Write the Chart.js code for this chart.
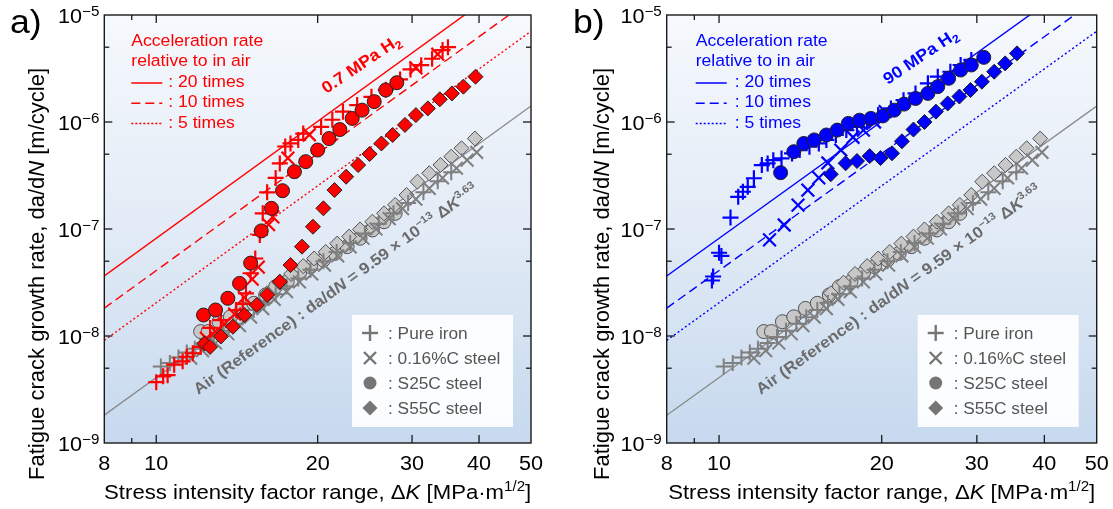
<!DOCTYPE html>
<html><head><meta charset="utf-8">
<script src="https://cdn.jsdelivr.net/npm/chart.js@4.4.0/dist/chart.umd.min.js"></script>
<style>
html,body{margin:0;padding:0;background:#fff;width:1113px;height:509px;overflow:hidden}
canvas{position:absolute;top:0}
#ca{left:0}
#cb{left:556px}
</style></head><body>
<canvas id="ca" width="556" height="509"></canvas>
<canvas id="cb" width="557" height="509"></canvas>
<script>
// ---------- axis ticks ----------
const xTicks = [8, 9, 10, 20, 30, 40, 50];
const xTickLabels = ['8', '', '10', '20', '30', '40', '50'];
const yDecades = [-9, -8, -7, -6, -5];
const yMinorTicks = [5e-9, 5e-8, 5e-7, 5e-6];

// ---------- reference law (Air) ----------
const airCoef = 9.59e-13;
const airExp = 3.63;
const accelFactors = [20, 10, 5];
const accelLabels = [': 20 times', ': 10 times', ': 5 times'];

// ---------- Air data (same in both panels) [ΔK, da/dN] ----------
const airPureIron = [[10.2,5.2e-9],[10.6,5.6e-9],[11.0,6.3e-9],[11.4,7.0e-9],[11.8,7.6e-9],[12.3,8.6e-9],[12.8,9.8e-9],[13.3,1.12e-8],[13.9,1.3e-8],[14.5,1.5e-8],[15.2,1.75e-8],[15.9,2.05e-8],[16.7,2.45e-8],[17.5,2.9e-8],[18.4,3.45e-8],[19.4,4.15e-8],[20.5,5.0e-8],[21.7,6.1e-8],[23.0,7.4e-8],[24.5,9.1e-8],[26.0,1.12e-7],[27.7,1.4e-7],[29.5,1.75e-7],[31.5,2.2e-7],[33.5,2.8e-7],[35.5,3.4e-7]];
const airC016 = [[11.6,6.2e-9],[12.2,7.3e-9],[12.9,8.6e-9],[13.6,1.05e-8],[14.3,1.25e-8],[15.0,1.5e-8],[15.8,1.8e-8],[16.6,2.2e-8],[17.5,2.6e-8],[18.5,3.2e-8],[19.5,3.8e-8],[20.6,4.6e-8],[21.8,5.6e-8],[23.0,6.8e-8],[24.3,8.2e-8],[25.7,1.0e-7],[27.2,1.25e-7],[28.8,1.55e-7],[30.5,1.9e-7],[32.3,2.4e-7],[34.2,3.0e-7],[36.3,3.7e-7],[38.0,4.4e-7],[39.6,5.2e-7]];
const airS25C = [[12.1,1.10e-8],[12.5,1.10e-8],[13.1,1.36e-8],[13.75,1.51e-8],[14.45,1.81e-8],[15.2,2.02e-8],[16.0,2.42e-8],[16.7,2.89e-8],[17.55,3.22e-8],[18.5,3.86e-8],[19.4,4.45e-8],[20.5,5.13e-8],[21.55,5.93e-8],[22.7,6.84e-8],[24.0,8.2e-8],[25.3,9.8e-8],[26.6,1.17e-7],[27.9,1.4e-7]];
const airS55C = [[16.1,2.51e-8],[17.0,3.15e-8],[17.85,3.8e-8],[18.8,4.5e-8],[19.7,5.3e-8],[20.7,6.1e-8],[21.75,7.3e-8],[22.9,8.5e-8],[24.0,9.9e-8],[25.3,1.17e-7],[26.6,1.40e-7],[27.9,1.68e-7],[29.3,2.08e-7],[30.7,2.77e-7],[32.3,3.32e-7],[33.9,3.97e-7],[35.5,4.74e-7],[37.1,5.68e-7],[39.3,7.0e-7]];

// ---------- 0.7 MPa H2 (panel a) ----------
const h07PureIron = [[10.0,3.7e-9],[10.3,4.2e-9],[10.5,4.3e-9],[10.8,5.4e-9],[11.2,5.8e-9],[11.4,6.4e-9],[11.7,6.9e-9],[12.1,7.9e-9],[12.6,1.19e-8],[13.2,1.41e-8],[14.1,1.75e-8],[14.5,2.0e-8],[14.7,2.5e-8],[15.0,3.86e-8],[15.3,5.3e-8],[15.6,8.8e-8],[15.8,1.4e-7],[16.1,2.2e-7],[16.7,3.0e-7],[17.0,4.1e-7],[17.4,5.9e-7],[17.8,6.3e-7],[18.4,6.8e-7],[18.8,7.8e-7],[20.3,9.0e-7],[21.3,1.05e-6],[22.3,1.25e-6],[23.7,1.44e-6],[25.2,1.72e-6],[26.8,2.0e-6],[28.5,2.5e-6],[29.8,3.1e-6],[31.2,3.4e-6],[32.7,3.9e-6],[34.2,4.7e-6],[35.0,5.0e-6]];
const h07C016 = [[12.4,9.5e-9],[12.9,1.1e-8],[13.4,1.3e-8],[14.0,1.6e-8],[14.6,2.3e-8],[15.1,3.4e-8],[15.5,4.4e-8],[16.2,1.1e-7],[16.5,1.3e-7],[17.6,4.6e-7],[19.3,7.6e-7],[30.5,3.2e-6],[33.5,4.3e-6]];
const h07S25C = [[12.25,1.57e-8],[12.9,1.75e-8],[13.6,2.25e-8],[14.3,3.1e-8],[15.0,4.8e-8],[15.7,9.6e-8],[16.4,1.56e-7],[17.2,2.28e-7],[18.1,3.43e-7],[19.0,4.26e-7],[20.0,5.47e-7],[21.0,7.0e-7],[22.0,8.5e-7],[23.2,1.08e-6],[24.2,1.29e-6],[25.5,1.55e-6],[26.8,1.99e-6],[28.1,2.33e-6]];
const h07S55C = [[12.3,8.5e-9],[12.6,7.9e-9],[13.2,9.9e-9],[13.9,1.22e-8],[14.6,1.57e-8],[15.4,1.95e-8],[16.1,2.42e-8],[17.0,3.22e-8],[17.8,4.6e-8],[18.7,6.84e-8],[19.6,1.05e-7],[20.5,1.56e-7],[21.5,2.31e-7],[22.6,3.08e-7],[23.8,3.96e-7],[25.0,5.02e-7],[26.3,6.3e-7],[27.6,7.56e-7],[29.1,9.4e-7],[30.5,1.16e-6],[32.1,1.34e-6],[33.8,1.63e-6],[35.6,1.85e-6],[37.4,2.14e-6],[39.4,2.65e-6]];

// ---------- 90 MPa H2 (panel b) ----------
const h90PureIron = [[9.7,3.3e-8],[9.75,3.6e-8],[10.0,6.0e-8],[10.1,5.6e-8],[10.5,1.28e-7],[10.85,2.0e-7],[11.07,2.23e-7],[11.3,2.48e-7],[11.6,2.98e-7],[12.0,3.96e-7],[12.3,4.1e-7],[12.6,4.4e-7],[13.05,4.57e-7],[13.65,5.09e-7],[14.1,5.47e-7],[14.7,5.88e-7],[15.3,6.3e-7],[15.8,6.8e-7],[16.45,7.56e-7],[17.2,8.4e-7],[18.0,9.0e-7],[18.8,1.0e-6],[19.7,1.16e-6],[20.8,1.34e-6],[21.95,1.6e-6],[23.1,1.85e-6],[24.35,2.3e-6],[25.4,2.65e-6],[26.8,2.95e-6],[28.0,3.41e-6],[29.3,3.8e-6]];
const h90C016 = [[12.4,7.9e-8],[13.2,1.09e-7],[14.0,1.67e-7],[14.6,2.31e-7],[15.3,3.0e-7],[15.9,4.14e-7],[16.8,5.47e-7],[17.7,7.2e-7],[18.5,8.4e-7],[19.4,1.0e-6],[20.3,1.25e-6]];
const h90S25C = [[13.0,3.36e-7],[13.75,5.28e-7],[14.35,6.3e-7],[15.0,6.8e-7],[15.8,7.56e-7],[16.55,8.4e-7],[17.35,9.7e-7],[18.2,1.04e-6],[19.1,1.08e-6],[20.1,1.14e-6],[21.1,1.29e-6],[22.0,1.47e-6],[23.1,1.66e-6],[24.35,1.85e-6],[25.4,2.14e-6],[26.6,2.56e-6],[28.0,3.06e-6],[29.3,3.41e-6],[30.9,4.02e-6]];
const h90S55C = [[16.1,3.25e-7],[17.15,4.11e-7],[18.0,4.32e-7],[19.0,4.8e-7],[19.9,4.6e-7],[20.9,5.1e-7],[21.8,6.6e-7],[22.9,8.5e-7],[24.0,1.0e-6],[25.2,1.25e-6],[26.5,1.49e-6],[27.85,1.73e-6],[29.2,1.99e-6],[30.65,2.38e-6],[32.3,2.95e-6],[33.85,3.53e-6],[35.6,4.38e-6]];

const legendItems = [': Pure iron', ': 0.16%C steel', ': S25C steel', ': S55C steel'];

// ---------- helpers ----------
const FONT = '"Liberation Sans", Arial, Helvetica, sans-serif';
const SX = 1.08; // horizontal text stretch of the original figure
function fnt(s, b, i) { return (i ? 'italic ' : '') + (b ? 'bold ' : '') + s + 'px ' + FONT; }
function pts(arr) { return arr.map(p => ({ x: p[0], y: p[1] })); }
function airRate(k, f) { return f * airCoef * Math.pow(k, airExp); }
function runs(ctx, list, x, y, align, sx) {
  if (sx === undefined) sx = SX;
  let total = 0;
  list.forEach(r => { ctx.font = fnt(r.s, r.b, r.i); r.w = ctx.measureText(r.t).width * sx; total += r.w; });
  let cx = align === 'right' ? x - total : align === 'center' ? x - total / 2 : x;
  ctx.textAlign = 'left'; ctx.textBaseline = 'alphabetic';
  list.forEach(r => {
    ctx.font = fnt(r.s, r.b, r.i);
    ctx.save(); ctx.translate(cx, y + (r.dy || 0)); ctx.scale(sx, 1); ctx.fillText(r.t, 0, 0); ctx.restore();
    cx += r.w;
  });
  return total;
}
function seg(ctx, x1, y1, x2, y2) { ctx.beginPath(); ctx.moveTo(x1, y1); ctx.lineTo(x2, y2); ctx.stroke(); }

const bgPlugin = {
  id: 'bg',
  beforeDatasetsDraw(chart) {
    const { ctx, chartArea: a } = chart;
    const g = ctx.createLinearGradient(0, a.top, 0, a.bottom);
    g.addColorStop(0, '#f6f9fd');
    g.addColorStop(0.5, '#e2ebf6');
    g.addColorStop(1, '#c6d9ee');
    ctx.save(); ctx.fillStyle = g; ctx.fillRect(a.left, a.top, a.right - a.left, a.bottom - a.top); ctx.restore();
  }
};

function decoPlugin(cfg) {
  return {
    id: 'deco',
    afterDatasetsDraw(chart) {
      const { ctx, chartArea: a } = chart;
      const xs = chart.scales.x, ys = chart.scales.y;
      ctx.save();
      // ---- acceleration legend (top-left)
      const lx = a.left + cfg.accelDx;
      ctx.fillStyle = cfg.color; ctx.strokeStyle = cfg.color;
      runs(ctx, [{ t: 'Acceleration rate', s: 16.3 }], lx, 46);
      runs(ctx, [{ t: 'relative to in air', s: 16.3 }], lx, 66);
      const dashes = [[], [9, 5], [2, 2]];
      accelLabels.forEach((lab, i) => {
        const by = 87 + i * 20.3;
        ctx.lineWidth = 1.5; ctx.setLineDash(dashes[i]);
        seg(ctx, lx, by - 4, lx + 31, by - 4);
        ctx.setLineDash([]);
        runs(ctx, [{ t: lab, s: 16.3 }], lx + cfg.accelTextDx, by);
      });
      // ---- pressure label
      ctx.save();
      ctx.translate(a.left + cfg.pressDx, cfg.pressY);
      ctx.rotate(-34 * Math.PI / 180);
      ctx.fillStyle = cfg.color;
      runs(ctx, [{ t: cfg.pressure + ' MPa H', s: 16.5, b: true }, { t: '2', s: 11.5, b: true, dy: 4 }], 0, 0);
      ctx.restore();
      // ---- air text along reference line
      const p1x = xs.getPixelForValue(10), p1y = ys.getPixelForValue(airRate(10, 1));
      const p2x = xs.getPixelForValue(40), p2y = ys.getPixelForValue(airRate(40, 1));
      const ang = Math.atan2(p2y - p1y, p2x - p1x);
      ctx.save();
      ctx.translate(a.left + 94, 395);
      ctx.rotate(ang);
      ctx.fillStyle = '#6b6b6b';
      runs(ctx, [
        { t: 'Air (Reference) : da/d', s: 15.8, b: true },
        { t: 'N', s: 15.8, b: true, i: true },
        { t: ' = 9.59 \u00d7 10', s: 15.8, b: true },
        { t: '\u221213', s: 10.5, b: true, dy: -6.5 },
        { t: ' \u0394', s: 15.8, b: true },
        { t: 'K', s: 15.8, b: true, i: true },
        { t: '3.63', s: 10.5, b: true, dy: -6.5 }
      ], 0, 0);
      ctx.restore();
      // ---- material legend box
      const bx = a.right - 18 - 161;
      ctx.fillStyle = 'rgba(255,255,255,0.92)';
      ctx.fillRect(bx, 315, 161, 112);
      const mx = bx + 18;
      legendItems.forEach((lab, i) => {
        const cy = 333 + i * 25;
        ctx.fillStyle = '#757575'; ctx.strokeStyle = '#757575'; ctx.lineWidth = 2.4;
        if (i === 0) { seg(ctx, mx - 8, cy, mx + 8, cy); seg(ctx, mx, cy - 8, mx, cy + 8); }
        else if (i === 1) { seg(ctx, mx - 6, cy - 6, mx + 6, cy + 6); seg(ctx, mx - 6, cy + 6, mx + 6, cy - 6); }
        else if (i === 2) { ctx.beginPath(); ctx.arc(mx, cy, 6.5, 0, 2 * Math.PI); ctx.fill(); }
        else { ctx.beginPath(); ctx.moveTo(mx, cy - 7.5); ctx.lineTo(mx + 7.5, cy); ctx.lineTo(mx, cy + 7.5); ctx.lineTo(mx - 7.5, cy); ctx.closePath(); ctx.fill(); }
        ctx.fillStyle = '#555';
        runs(ctx, [{ t: lab, s: 16 }], mx + 18, cy + 6);
      });
      ctx.restore();
    },
    afterDraw(chart) {
      const { ctx, chartArea: a } = chart;
      const xs = chart.scales.x, ys = chart.scales.y;
      ctx.save();
      ctx.strokeStyle = '#1a1a1a'; ctx.lineWidth = 1.4;
      ctx.strokeRect(a.left, a.top, a.right - a.left, a.bottom - a.top);
      ctx.lineWidth = 1.3;
      // x ticks & labels
      ctx.fillStyle = '#000';
      xTicks.forEach((v, i) => {
        const px = xs.getPixelForValue(v);
        const len = xTickLabels[i] ? 8 : 5;
        if (px > a.left + 1 && px < a.right - 1) {
          seg(ctx, px, a.bottom, px, a.bottom - len);
          seg(ctx, px, a.top, px, a.top + len);
        }
        if (xTickLabels[i]) runs(ctx, [{ t: xTickLabels[i], s: 20 }], px, 470, 'center');
      });
      // y ticks & labels
      yDecades.forEach(e => {
        const py = ys.getPixelForValue(Math.pow(10, e));
        if (py > a.top + 1 && py < a.bottom - 1) {
          seg(ctx, a.left, py, a.left + 8, py);
          seg(ctx, a.right, py, a.right - 8, py);
        }
        runs(ctx, [{ t: '10', s: 20 }, { t: '\u2212' + Math.abs(e), s: 14, dy: -7 }], a.left - 5, py + 8, 'right');
      });
      yMinorTicks.forEach(v => {
        const py = ys.getPixelForValue(v);
        seg(ctx, a.left, py, a.left + 5, py);
        seg(ctx, a.right, py, a.right - 5, py);
      });
      // axis titles
      runs(ctx, [
        { t: 'Stress intensity factor range, \u0394', s: 20.5 },
        { t: 'K', s: 20.5, i: true },
        { t: ' [MPa\u00b7m', s: 20.5 },
        { t: '1/2', s: 14, dy: -8 },
        { t: ']', s: 20.5 }
      ], (a.left + a.right) / 2, 499, 'center');
      ctx.save();
      ctx.translate(cfg.yTitleX, 274);
      ctx.rotate(-Math.PI / 2);
      runs(ctx, [
        { t: 'Fatigue crack growth rate, da/d', s: 22 },
        { t: 'N', s: 22, i: true },
        { t: ' [m/cycle]', s: 22 }
      ], 0, 0, 'center', 1);
      ctx.restore();
      // panel letter
      runs(ctx, [{ t: cfg.letter, s: 33 }], cfg.letterX, 33);
      ctx.restore();
    }
  };
}

function makePanel(cfg) {
  const gray = '#7f7f7f';
  const lineSets = accelFactors.map((f, i) => ({
    data: [{ x: 8, y: airRate(8, f) }, { x: 50, y: airRate(50, f) }],
    showLine: true, pointRadius: 0, borderColor: cfg.color, borderWidth: 1.4,
    borderDash: [[], [9, 5], [2, 2.5]][i], order: 5, clip: true
  }));
  const datasets = [
    { data: pts(cfg.s25c), pointStyle: 'circle', pointRadius: 7, backgroundColor: cfg.color, borderColor: '#222', borderWidth: 1, order: 1 },
    { data: pts(cfg.s55c), pointStyle: 'rectRot', pointRadius: 7.5, backgroundColor: cfg.color, borderColor: '#222', borderWidth: 1, order: 2 },
    { data: pts(cfg.c016), pointStyle: 'crossRot', pointRadius: 9, borderColor: cfg.color, borderWidth: 2.2, order: 3 },
    { data: pts(cfg.iron), pointStyle: 'cross', pointRadius: 8, borderColor: cfg.color, borderWidth: 2.2, order: 4 },
    ...lineSets,
    { data: pts(airC016), pointStyle: 'crossRot', pointRadius: 9, borderColor: gray, borderWidth: 2, order: 6 },
    { data: pts(airPureIron), pointStyle: 'cross', pointRadius: 8, borderColor: gray, borderWidth: 2, order: 7 },
    { data: pts(airS55C), pointStyle: 'rectRot', pointRadius: 7.5, backgroundColor: '#c8c8c8', borderColor: '#505050', borderWidth: 1, order: 8 },
    { data: pts(airS25C), pointStyle: 'circle', pointRadius: 7, backgroundColor: '#c8c8c8', borderColor: '#505050', borderWidth: 1, order: 9 },
    { data: [{ x: 8, y: airRate(8, 1) }, { x: 50, y: airRate(50, 1) }], showLine: true, pointRadius: 0, borderColor: '#8a8a8a', borderWidth: 1.3, order: 10 }
  ];
  new Chart(document.getElementById(cfg.id), {
    type: 'scatter',
    data: { datasets },
    options: {
      responsive: false, animation: false, events: [],
      layout: { padding: cfg.pad },
      plugins: { legend: { display: false }, tooltip: { enabled: false } },
      scales: {
        x: { type: 'logarithmic', min: 8, max: 50, display: false },
        y: { type: 'logarithmic', min: 1e-9, max: 1e-5, display: false }
      }
    },
    plugins: [bgPlugin, decoPlugin(cfg)]
  });
}

makePanel({ id: 'ca', color: '#ff0000', pressure: '0.7', letter: 'a)', letterX: 10, yTitleX: 44,
  pad: { left: 104.3, right: 25, top: 15, bottom: 66 }, accelDx: 27, accelTextDx: 37, pressDx: 222, pressY: 94,
  iron: h07PureIron, c016: h07C016, s25c: h07S25C, s55c: h07S55C });
makePanel({ id: 'cb', color: '#0000ff', pressure: '90', letter: 'b)', letterX: 17, yTitleX: 53,
  pad: { left: 110.7, right: 16.3, top: 15, bottom: 66 }, accelDx: 29, accelTextDx: 39, pressDx: 221, pressY: 85,
  iron: h90PureIron, c016: h90C016, s25c: h90S25C, s55c: h90S55C });
</script>
</body></html>
